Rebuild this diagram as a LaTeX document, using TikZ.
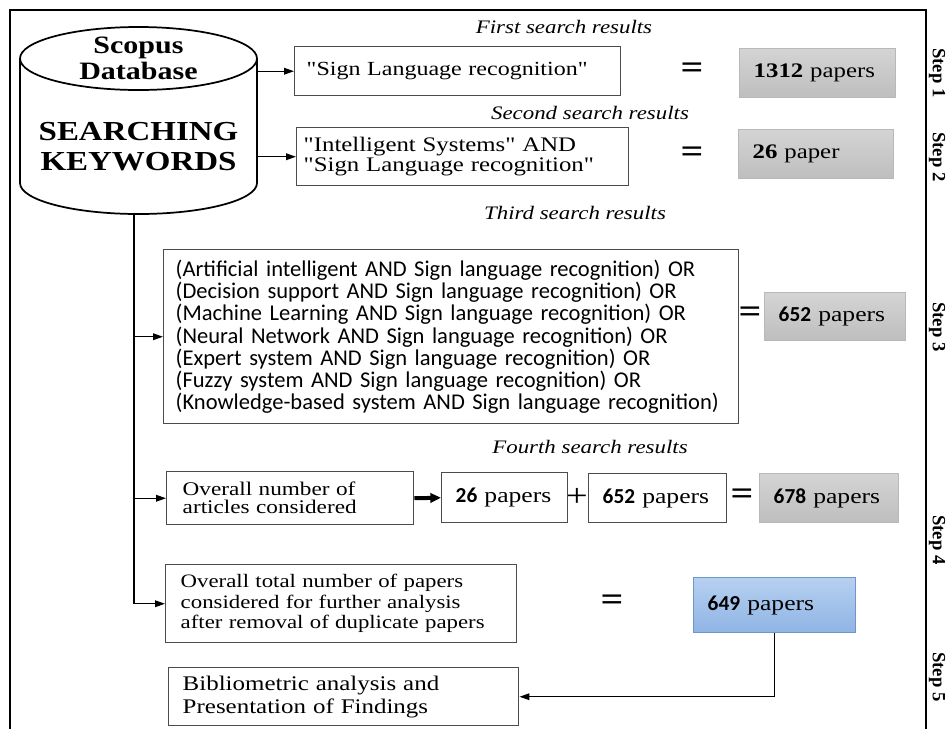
\documentclass[tikz,border=0pt]{standalone}
\usepackage{fontspec}
\usepackage{tikz}
\usetikzlibrary{
  calc, shapes, backgrounds, arrows.meta
}
\newfontfamily\tms[FakeStretch=1.2]{Liberation Serif}
\newfontfamily\tmsn{Liberation Serif}
\newfontfamily\calibri{Carlito}
\newcommand{\cnum}[1]{{\calibri\bfseries #1}}
\definecolor{resTop}{RGB}{212,212,212}
\definecolor{resBot}{RGB}{190,190,190}
\definecolor{blueTop}{RGB}{182,208,241}
\definecolor{blueBot}{RGB}{143,180,228}
\definecolor{blueEdge}{RGB}{112,150,200}
\hyphenpenalty=10000
\exhyphenpenalty=10000

\begin{document}
\begin{tikzpicture}[x=0.75pt, y=-0.75pt]
            \pgfmathsetmacro{\p}{0.75}
            \tikzstyle{qbox}=[draw=black!70, line width=1.1pt, anchor=north west, align=left, inner xsep=12pt, inner ysep=1pt, font=\tms]
            \tikzstyle{numbox}=[qbox, inner xsep=10.5pt, font=\tms\fontsize{16}{17}\selectfont]
            \tikzstyle{resbox}=[numbox, draw=black!28, shading=axis, top color=resTop, bottom color=resBot]
            \tikzstyle{bluebox}=[numbox, draw=blueEdge, shading=axis, top color=blueTop, bottom color=blueBot]
            \tikzstyle{tag}=[font=\tms\itshape\fontsize{14.3}{16}\selectfont]
            \tikzstyle{steptag}=[rotate=-90, inner sep=0pt, font=\tmsn\bfseries\fontsize{14}{15}\selectfont]
            \tikzstyle{eqsign}=[inner sep=0pt, font=\tms\bfseries\fontsize{25}{25}\selectfont]
            \tikzstyle{arr}=[line width=1pt, -{Triangle[length=7.5pt,width=5pt]}]

            \useasboundingbox (0,0) rectangle (949,729);

            %%%%%%%%%%%%%%%%%%%%%%%%%%%%%%%%%%%%%%%%
            \draw[line width=1.6pt] (10,729) -- (10,10) -- (926,10) -- (926,729);

            \draw[line width=1.3pt] (138.5,58.5) ellipse [x radius=118.5, y radius=31.5];
            \draw[line width=1.3pt] (20,58.5) -- (20,183) arc[start angle=180, end angle=0, x radius=118.5, y radius=31] -- (257,58.5);
            \node (dbtop) at (138.5,58) [align=center, font=\tms\bfseries\fontsize{18.75}{19.5}\selectfont] {Scopus\\Database};
            \node (dbkey) at (138.5,147) [align=center, font=\tms\bfseries\fontsize{20.6}{22.5}\selectfont] {SEARCHING\\KEYWORDS};
            \coordinate (dbR) at (257,0);
            \coordinate (dbB) at (134,214);

            \node (tag1) at (564,27) [tag] {First search results};
            \node (box1) at (294,46) [qbox, inner xsep=9pt, text width=(326-24)*\p pt, minimum height=49*\p pt, font=\tms\fontsize{15}{18}\selectfont] {"Sign Language recognition"};
            \node (eq1) at (692,71) [eqsign] {=};
            \node (res1) at (739,48) [resbox, text width=(156-28)*\p pt, minimum height=49*\p pt, font=\tms\fontsize{15.5}{17}\selectfont] {\textbf{1312} papers};

            \node (tag2) at (590,113) [tag] {Second search results};
            \node (box2) at (296,127) [qbox, inner xsep=5.25pt, text width=(332-14)*\p pt, minimum height=58*\p pt, font=\tms\fontsize{15.5}{15}\selectfont] {"Intelligent Systems" AND\\"Sign Language recognition"};
            \node (eq2) at (692,155) [eqsign] {=};
            \node (res2) at (738,129) [resbox, text width=(155-28)*\p pt, minimum height=49*\p pt, font=\tms\fontsize{15.5}{17}\selectfont] {\textbf{26} paper};

            \node (tag3) at (575,213) [tag] {Third search results};
            \node (box3) at (163,249) [qbox, inner xsep=9pt, text width=(575-24)*\p pt, minimum height=174*\p pt, font=\calibri\fontsize{16.9}{16.6}\selectfont] {(Artificial intelligent AND Sign language recognition) OR\\(Decision support AND Sign language recognition) OR\\(Machine Learning AND Sign language recognition) OR\\(Neural Network AND Sign language recognition) OR\\(Expert system AND Sign language recognition) OR\\(Fuzzy system AND Sign language recognition) OR\\(Knowledge-based system AND Sign language recognition)};
            \node (eq3) at (750,315) [eqsign] {=};
            \node (res3) at (764,292) [resbox, text width=(141-28)*\p pt, minimum height=48*\p pt] {\cnum{652} papers};

            \node (tag4) at (590,447) [tag] {Fourth search results};
            \node (box4) at (166,471) [qbox, text width=(247-32)*\p pt, minimum height=53*\p pt, font=\tms\fontsize{14.5}{13.5}\selectfont] {Overall number of\\articles considered};
            \node (p26) at (441,472) [numbox, text width=(126-28)*\p pt, minimum height=50*\p pt] {\cnum{26} papers};
            \node (plus) at (577,497) [inner sep=0pt, font=\tms\fontsize{24}{24}\selectfont] {+};
            \node (p652) at (588,473) [numbox, text width=(138-28)*\p pt, minimum height=49*\p pt] {\cnum{652} papers};
            \node (eq4) at (742,497) [eqsign] {=};
            \node (res4) at (759,473) [resbox, text width=(139-28)*\p pt, minimum height=49*\p pt] {\cnum{678} papers};

            \node (box5) at (165,564) [qbox, inner xsep=11.25pt, text width=(351-30)*\p pt, minimum height=78*\p pt, font=\tms\fontsize{14.25}{15.4}\selectfont] {Overall total number of papers\\considered for further analysis\\after removal of duplicate papers};
            \node (eq5) at (612,603) [eqsign] {=};
            \node (res5) at (693,577) [bluebox, text width=(162-28)*\p pt, minimum height=55*\p pt] {\cnum{649} papers};

            \node (box6) at (168,667) [qbox, inner xsep=10.5pt, text width=(350-28)*\p pt, minimum height=58*\p pt, font=\tms\fontsize{15.6}{17.25}\selectfont] {Bibliometric analysis and\\Presentation of Findings};

            \node (step1) at (937,73) [steptag] {Step 1};
            \node (step2) at (937,157) [steptag] {Step 2};
            \node (step3) at (937,327) [steptag] {Step 3};
            \node (step4) at (937,540) [steptag] {Step 4};
            \node (step5) at (937,677) [steptag] {Step 5};

            \draw[arr] (dbR |- box1.west) -- (box1.west);
            \draw[arr] (dbR |- box2.west) -- (box2.west);
            \draw[line width=1pt] (dbB) -- (dbB |- box5.west);
            \draw[arr] (dbB |- box3.west) -- (box3.west);
            \draw[arr] (dbB |- box4.west) -- (box4.west);
            \draw[arr] (dbB |- box5.west) -- (box5.west);
            \draw[line width=3pt, -{Triangle[length=8pt,width=7pt]}] (box4.east) -- (p26.west);
            \draw[arr] (res5.south) |- (box6.east);
        \end{tikzpicture}
\end{document}
